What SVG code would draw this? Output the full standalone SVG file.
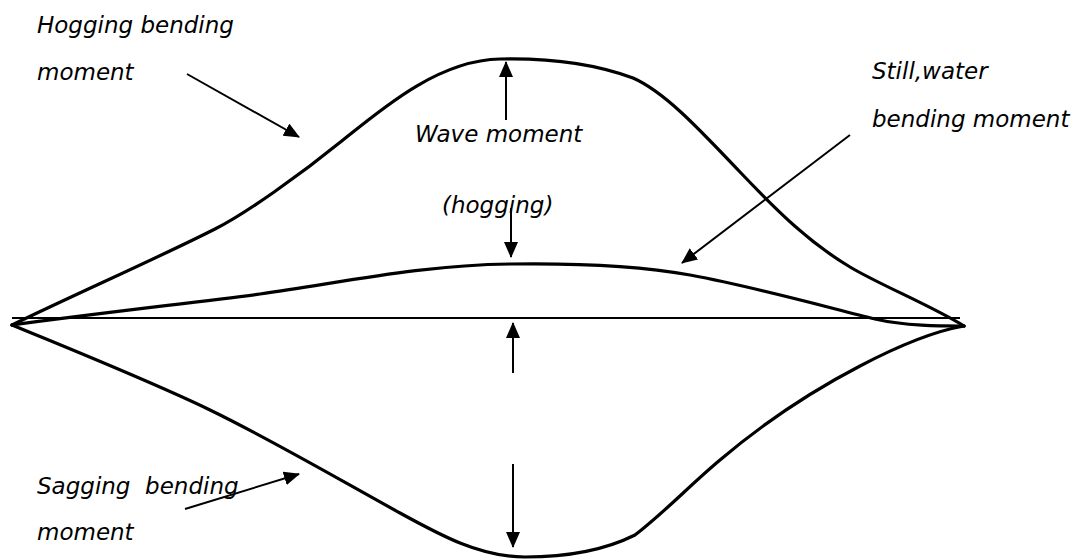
<svg xmlns="http://www.w3.org/2000/svg" width="1084" height="560" viewBox="0 0 1084 560">
<style>
.lbl{font-family:"DejaVu Sans","Liberation Sans",sans-serif;font-style:italic;font-size:23px;fill:#000;white-space:pre}
.curve{fill:none;stroke:#000;stroke-width:3.2;stroke-linejoin:round;stroke-linecap:round}
.axis{fill:none;stroke:#000;stroke-width:2}
.arr{fill:none;stroke:#000;stroke-width:2;marker-end:url(#ah)}
</style>
<defs>
<marker id="ah" markerUnits="userSpaceOnUse" markerWidth="16" markerHeight="14" viewBox="0 0 16 14" refX="15" refY="7" orient="auto">
<path d="M0,0 L16,7 L0,14 z" fill="#000"/>
</marker>
</defs>
<rect width="1084" height="560" fill="#fff"/>
<g id="curves">
<path id="hogging-curve" class="curve" d="M12,325 C80,292 160,257 215,229 C245,214 300,175 343,140 C385,106 440,60 500,59 C545,58 590,62 633,78 C665,92 700,130 740,172 C780,214 810,243 850,267 C880,285 930,305 964,326"/>
<path id="still-water-curve" class="curve" d="M12,325 C100,313 200,302 260,294 C340,283 420,265 510,264 C580,263 640,266 690,275 C760,288 830,308 875,319 C905,326 940,326 964,326"/>
<path id="sagging-curve" class="curve" d="M12,325 C70,349 150,381 210,410 C270,439 340,480 400,513 C440,535 480,557 525,557 C570,557 605,550 635,535 C665,512 690,485 720,460 C760,426 810,392 860,366 C900,345 935,331 964,326"/>
<line id="baseline" class="axis" x1="12" y1="318" x2="960" y2="318"/>
</g>
<g id="connectors">
<line class="arr" x1="187" y1="74" x2="299" y2="137"/>
<line class="arr" x1="506" y1="120" x2="506" y2="62"/>
<line class="arr" x1="511" y1="208" x2="511" y2="257"/>
<line class="arr" x1="850" y1="135" x2="682" y2="263"/>
<line class="arr" x1="513" y1="373" x2="513" y2="323"/>
<line class="arr" x1="513" y1="464" x2="513" y2="547"/>
<line class="arr" x1="185" y1="509" x2="299" y2="474"/>
</g>
<g id="label-hogging">
<text class="lbl" x="37" y="33">Hogging bending</text>
<text class="lbl" x="37" y="80">moment</text>
</g>
<g id="label-wave">
<text class="lbl" x="415" y="142">Wave moment</text>
<text class="lbl" x="442" y="213">(hogging)</text>
</g>
<g id="label-still">
<text class="lbl" x="872" y="79">Still,water</text>
<text class="lbl" x="872" y="127">bending moment</text>
</g>
<g id="label-sagging">
<text class="lbl" x="37" y="494">Sagging  bending</text>
<text class="lbl" x="37" y="540">moment</text>
</g>
</svg>
